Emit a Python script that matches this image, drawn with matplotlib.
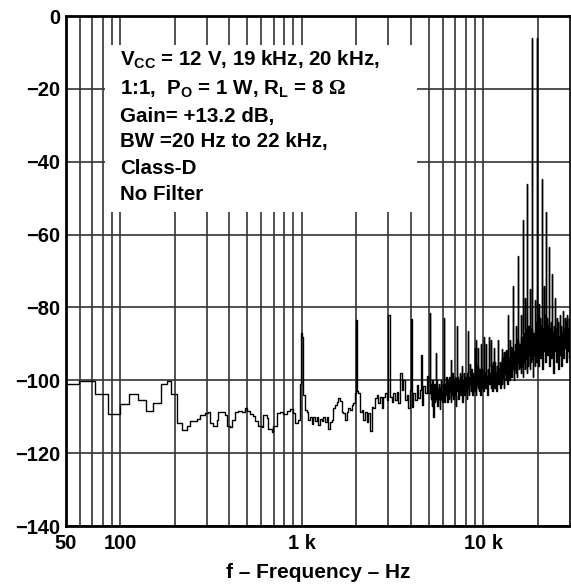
import numpy as np
import matplotlib
matplotlib.use("Agg")
import matplotlib.pyplot as plt
from matplotlib.patches import Rectangle
from matplotlib.ticker import FixedLocator, FixedFormatter, NullFormatter

plt.rcParams['font.family'] = ['Liberation Sans', 'DejaVu Sans']
plt.rcParams['font.weight'] = 'bold'
plt.rcParams['mathtext.fontset'] = 'custom'
plt.rcParams['mathtext.rm'] = 'Liberation Sans:bold'
plt.rcParams['mathtext.it'] = 'Liberation Sans:bold'
plt.rcParams['mathtext.bf'] = 'Liberation Sans:bold'
plt.rcParams['mathtext.sf'] = 'Liberation Serif'
plt.rcParams['mathtext.default'] = 'rm'

# ---------------- data ----------------
# low-frequency FFT bins (bin edges in Hz, level in dB)
low_edges = [50, 59.4, 72.7, 85.7, 99.8, 111.9, 125.4, 138.7, 151.6, 167.2, 180.4, 190.5, 203]
low_db = [-101.1, -100.1, -103.8, -109.3, -106.5, -103.9, -105.5, -108.3, -106.3,
          -101.1, -100.1, -103.8]

# 205 Hz .. 957 Hz, evenly spaced on the log axis
mid1_range = (205, 957)
mid1_db = [-111.6, -111.6, -111.6, -113.6, -113.6, -113.6, -112.5, -112.5, -111.3, -111.3,
           -111.1, -111.1, -110.5, -110.5, -109.6, -109.6, -109.6, -108.9, -108.9, -108.8,
           -111.6, -111.6, -112.5, -112.5, -110.9, -108.8, -108.8, -108.8, -108.8, -109.6,
           -112.5, -112.5, -112.9, -110.9, -110.9, -108.8, -108.8, -108.3, -108.3, -108.8,
           -108.8, -107.7, -108.3, -108.3, -109.2, -109.2, -109.9, -111.3, -111.3, -112.5,
           -112.5, -112.9, -109.6, -109.6, -110.3, -113.4, -113.4, -114.3, -112.5, -112.5,
           -108.9, -108.9, -108.8, -108.8, -109.2, -109.2, -108.5, -108.5, -107.9, -107.9,
           -108.9, -111.6, -111.6, -110.9]

# 1.04 kHz .. 5.08 kHz
mid2_range = (1042, 5083)
mid2_db = [-108.2, -108.6, -111.0, -110.0, -111.9, -110.2, -111.2, -110.0, -112.4, -110.5,
           -111.2, -110.0, -111.4, -110.2, -113.3, -111.4, -111.0, -107.7, -106.8, -105.9,
           -104.9, -105.6, -108.6, -109.1, -110.8, -108.6, -107.7, -108.2, -106.8, -106.3,
           -103.5, -103.0, -103.5, -108.6, -108.2, -111.0, -108.6, -111.4, -109.1, -113.8,
           -107.2, -107.7, -104.9, -104.0, -106.3, -104.5, -107.7, -104.5, -103.5, -105.4,
           -103.5, -104.5, -105.9, -103.5, -105.4, -103.1, -106.3, -98.0, -102.6, -99.8,
           -105.4, -104.0, -107.7, -102.6, -107.2, -103.5, -105.4, -101.2, -104.9, -102.6,
           -106.8, -101.7, -103.5, -98.9, -103.5, -101.7]

# 5.1 kHz .. 30 kHz noise floor (dense)
hi_range = (5116, 30000)
hi_db_5k = [-101, -105, -103, -107, -100, -104, -110, -103, -101, -106, -102, -105, -100, -104, -107,
            -102, -105, -101, -104, -108, -102, -100, -105, -103, -106, -101, -104, -102, -106, -103]
hi_db_6k = [-101, -104, -99, -103, -106, -100, -102, -105, -99, -103, -101, -106, -100, -104, -98,
            -102, -105, -100, -103, -99, -104, -107, -101, -103, -99, -102, -105, -100, -104, -98,
            -101, -104, -99, -103, -106, -100, -102, -98, -104, -101, -99, -103, -100, -105, -98,
            -102, -100, -104, -99, -101]
hi_db_9k = [-100, -103, -97, -101, -104, -98, -102, -99, -103, -97, -100, -104, -98, -101, -96,
            -102, -99, -103, -97, -100, -104, -98, -101, -97, -102, -99, -103, -96, -100, -98,
            -102, -97, -101, -99, -104, -97, -100, -96, -101, -98]
hi_db_11k = [-99, -102, -96, -100, -103, -95, -99, -97, -102, -95, -100, -98, -103, -96, -99,
             -94, -101, -97, -100, -95, -102, -98, -96, -101, -94, -99, -97, -102, -95, -98]
hi_db_13k = [-96, -100, -92, -98, -101, -90, -97, -94, -100, -89, -96, -93, -99, -91, -97,
             -88, -95, -100, -92, -97, -90, -98, -94, -99, -89, -95, -92, -97, -90, -96]
hi_db_16k = [-94, -98, -88, -96, -90, -99, -87, -95, -92, -97, -86, -94, -89, -98, -91,
             -96, -85, -93, -88, -97, -90, -95, -86, -94, -89, -99, -87, -93, -91, -96]
hi_db_19k = [-92, -84, -95, -86, -90, -82, -96, -87, -91, -83, -94, -85, -89, -81, -97,
             -86, -92, -84, -90, -82, -95, -87, -88, -83, -93, -85, -91, -80, -96, -86,
             -89, -84, -94, -82, -90, -87, -98, -85, -92, -81, -89, -86, -95, -83, -91,
             -84, -97, -88, -90, -82, -93, -85, -96, -87, -89, -81, -94, -86, -91, -83,
             -88, -84, -95, -82, -92, -86, -90, -83, -94, -85]

# tones, harmonics and intermodulation spurs (Hz, dB)
spur_freq = [975, 990, 1003, 1020, 2000, 3000, 4000, 4535, 5060, 5486, 6071, 6608, 7131,
             7599, 8200, 8440, 8994, 9100, 9376, 9705, 10080, 10400, 10700, 11050, 11500,
             12100, 12600, 13000, 13300, 13700, 14200, 14600, 15100, 15600, 16100, 16600,
             17000, 17500, 18100, 18600, 19200, 19700, 20300, 20950, 21600, 22100, 23000,
             23800, 24700]
spur_db = [-101, -87, -88, -104, -83.5, -82.1, -83.1, -93, -81.5, -92.5, -83, -94.5, -85,
           -96, -86.5, -95.5, -91, -89, -91, -90, -88, -90, -88, -89, -91,
           -89, -91.5, -92.3, -91.8, -82.2, -90.9, -74.1, -85.2, -65.8, -82, -56.1,
           -77.4, -46, -75, -6.1, -78, -6.1, -79, -44.8, -74, -53.8, -63.3,
           -70.9, -77.5]

x_ticks = [50, 100, 1000, 10000]
x_tick_labels = ['50', '100', '1 k', '10 k']
y_ticks = [0, -20, -40, -60, -80, -100, -120, -140]

# ---------------- assemble trace ----------------
hi_db = hi_db_5k + hi_db_6k + hi_db_9k + hi_db_11k + hi_db_13k + hi_db_16k + hi_db_19k
f = np.concatenate([
    np.array(low_edges[:-1]),
    np.geomspace(*mid1_range, len(mid1_db)),
    np.geomspace(*mid2_range, len(mid2_db)),
    np.geomspace(*hi_range, len(hi_db)),
    np.array(spur_freq, dtype=float)])
v = np.concatenate([low_db, mid1_db, mid2_db, hi_db, spur_db])
order = np.argsort(f, kind='stable')
f, v = f[order], v[order]

# ---------------- figure ----------------
fig = plt.figure(figsize=(5.71, 5.88), dpi=100)
ax = fig.add_axes([65.5 / 571, 62 / 588, 504.5 / 571, 510 / 588])
ax.set_xscale('log')
ax.set_xlim(50, 30000)
ax.set_ylim(-140, 0)

ax.plot(f, v, drawstyle='steps-post', color='black', lw=1.0, zorder=3)

minor = [m * d for d in (10, 100, 1000, 10000) for m in range(2, 10)
         if 50 < m * d < 30000 and m * d not in x_ticks]
ax.xaxis.set_major_locator(FixedLocator(x_ticks))
ax.xaxis.set_major_formatter(FixedFormatter(x_tick_labels))
ax.xaxis.set_minor_locator(FixedLocator(minor))
ax.xaxis.set_minor_formatter(NullFormatter())
ax.set_yticks(y_ticks)
ax.set_yticklabels([str(t).replace('-', '\u2212') for t in y_ticks])

ax.grid(True, which='both', color='#333333', lw=1.2)
ax.set_axisbelow(True)
ax.tick_params(which='both', length=0)
ax.tick_params(axis='x', pad=6, labelsize=14.5)
ax.tick_params(axis='y', pad=4, labelsize=14.5)
for s in ax.spines.values():
    s.set_linewidth(2.0)
    s.set_color('black')
ax.spines['right'].set_linewidth(1.2)

ax.add_patch(Rectangle((0.078, 0.616), 0.619, 0.327, transform=ax.transAxes,
                       facecolor='white', edgecolor='none', zorder=2))

lines = [r'V$_{CC}$ = 12 V, 19 kHz, 20 kHz,',
         r'1:1,  P$_{O}$ = 1 W, R$_{L}$ = 8 $\mathsf{\Omega}$',
         'Gain= +13.2 dB,',
         'BW =20 Hz to 22 kHz,',
         'Class-D',
         'No Filter']
ys = [0.902, 0.845, 0.792, 0.743, 0.690, 0.640]
for t, yy in zip(lines, ys):
    ax.text(0.109, yy, t, transform=ax.transAxes, fontsize=14.8, fontweight='bold',
            va='baseline', ha='left', zorder=4)

ax.set_xlabel('f \u2013 Frequency \u2013 Hz', fontsize=15, fontweight='bold', labelpad=7)

fig.savefig('out.png', dpi=100)
